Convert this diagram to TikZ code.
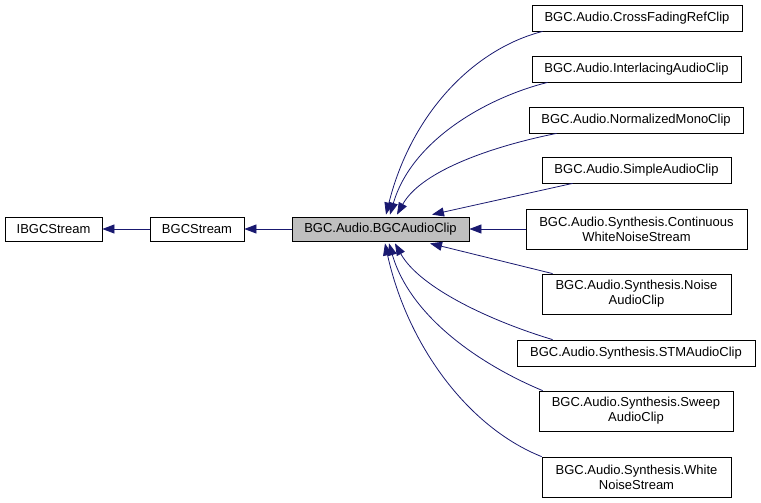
\documentclass[tikz,border=0pt]{standalone}
\usepackage{fontspec}
\setmainfont{Liberation Sans}
\usetikzlibrary{arrows.meta,calc}
\definecolor{edgeblue}{HTML}{191970}
\definecolor{boxgrey}{HTML}{BFBFBF}
\tikzset{
  cls/.style={draw=black, line width=0.8pt, fill=white, inner sep=0pt, align=center,
    font=\fontsize{13}{15}\selectfont},
  edge/.style={draw=edgeblue, line width=0.8pt, -{Triangle[length=12pt,width=9pt]}, fill=none},
}
\begin{document}
\begin{tikzpicture}[x=1pt,y=-1pt]
\useasboundingbox (0,0) rectangle (761,503);
\node[cls, minimum width=97pt, minimum height=24pt] (ibgc) at (53.5,229) {IBGCStream};
\node[cls, minimum width=94pt, minimum height=24pt] (bgcs) at (197,229) {BGCStream};
\node[cls, fill=boxgrey, minimum width=177pt, minimum height=24pt] (clip) at (380.5,229) {BGC.Audio.BGCAudioClip};
\node[cls, minimum width=210pt, minimum height=26pt] (cross) at (637,18) {BGC.Audio.CrossFadingRefClip};
\node[cls, minimum width=209pt, minimum height=26pt] (inter) at (636.5,69) {BGC.Audio.InterlacingAudioClip};
\node[cls, minimum width=214pt, minimum height=26pt] (norm) at (636,120) {BGC.Audio.NormalizedMonoClip};
\node[cls, minimum width=189pt, minimum height=26pt] (simple) at (636.5,170) {BGC.Audio.SimpleAudioClip};
\node[cls, minimum width=221pt, minimum height=40pt] (cont) at (636.5,229) {BGC.Audio.Synthesis.Continuous\\WhiteNoiseStream};
\node[cls, minimum width=189pt, minimum height=40pt] (noise) at (636.5,294) {BGC.Audio.Synthesis.Noise\\AudioClip};
\node[cls, minimum width=238pt, minimum height=26pt] (stm) at (636,353) {BGC.Audio.Synthesis.STMAudioClip};
\node[cls, minimum width=194pt, minimum height=40pt] (sweep) at (636,411) {BGC.Audio.Synthesis.Sweep\\AudioClip};
\node[cls, minimum width=189pt, minimum height=40pt] (white) at (636.5,477) {BGC.Audio.Synthesis.White\\NoiseStream};

\draw[edge] (bgcs.west) -- (ibgc.east);
\draw[edge] (clip.west) -- (bgcs.east);
\draw[edge] ($(cross.south west)+(11,0)$) .. controls +(-70,18) and +(25,-100) .. ($(clip.north)+(5.5,-2)$);
\draw[edge] ($(inter.south west)+(16,0)$) .. controls +(-60,15) and +(22,-75) .. ($(clip.north)+(9.5,-2)$);
\draw[edge] ($(norm.south west)+(28,0)$) .. controls +(-60,12) and +(25,-45) .. ($(clip.north)+(16.5,-2)$);
\draw[edge] ($(simple.south west)+(31,0)$) -- ($(clip.north)+(51.5,-2)$);
\draw[edge] (cont.west) -- (clip.east);
\draw[edge] ($(noise.north west)+(11,0)$) -- ($(clip.south)+(49.5,2)$);
\draw[edge] ($(stm.north west)+(36,0)$) .. controls +(-60,-18) and +(25,45) .. ($(clip.south)+(14.5,2)$);
\draw[edge] ($(sweep.north west)+(4,0)$) .. controls +(-60,-25) and +(22,75) .. ($(clip.south)+(8.5,2)$);
\draw[edge] ($(white.north west)+(0,0)$) .. controls +(-75,-30) and +(22,100) .. ($(clip.south)+(4.5,2)$);
\end{tikzpicture}
\end{document}
